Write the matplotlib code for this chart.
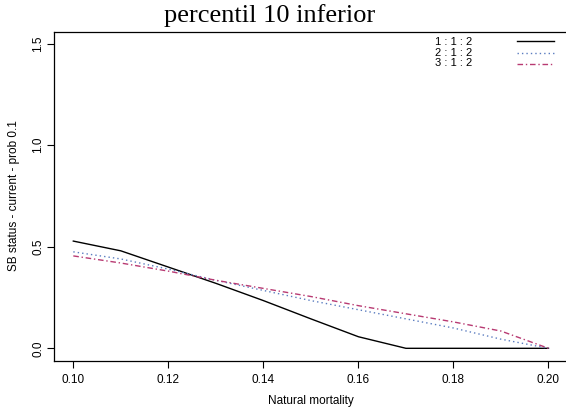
import matplotlib
matplotlib.use("Agg")
import matplotlib.pyplot as plt

# natural mortality grid and SB status for each scenario
mortality = [0.10, 0.11, 0.12, 0.13, 0.14, 0.15, 0.16, 0.17, 0.18, 0.19, 0.20]
sb_112 = [0.528, 0.48, 0.40, 0.32, 0.235, 0.145, 0.057, 0.0, 0.0, 0.0, 0.0]
sb_212 = [0.475, 0.44, 0.39, 0.335, 0.285, 0.235, 0.19, 0.145, 0.10, 0.045, 0.0]
sb_312 = [0.455, 0.42, 0.38, 0.335, 0.295, 0.255, 0.21, 0.17, 0.13, 0.085, 0.0]
labels = ["1 : 1 : 2", "2 : 1 : 2", "3 : 1 : 2"]

plt.rcParams["font.family"] = ["Liberation Sans", "DejaVu Sans"]

W, H = 566, 412
fig = plt.figure(figsize=(W / 100, H / 100), dpi=100)
# plot region runs a little past the right edge
ax = fig.add_axes([54.3 / W, 1 - 360.5 / H, (567.5 - 54.3) / W, (360.5 - 31.5) / H])

blue, red = "#5a7cc0", "#b83a72"
dot = (0, (1, 2.2))
dashdot = (0, (4, 2, 1, 2))

ax.plot(mortality, sb_112, color="black", lw=1.0, ls="-")
ax.plot(mortality, sb_212, color=blue, lw=1.0, ls=dot)
ax.plot(mortality, sb_312, color=red, lw=1.0, ls=dashdot)

ax.set_xlim(0.096, 0.204)
ax.set_ylim(-0.06, 1.56)
ax.set_xticks([0.10, 0.12, 0.14, 0.16, 0.18, 0.20])
ax.set_xticklabels(["0.10", "0.12", "0.14", "0.16", "0.18", "0.20"])
ax.set_yticks([0.0, 0.5, 1.0, 1.5])
ax.set_yticklabels(["0.0", "0.5", "1.0", "1.5"], rotation=90, va="center")
ax.tick_params(direction="out", length=4.8, width=0.8, labelsize=8.5)
ax.tick_params(axis="x", pad=5)
ax.tick_params(axis="y", pad=2.5)
for s in ax.spines.values():
    s.set_linewidth(0.9)

ax.set_xlabel("Natural mortality", fontsize=8.5, va="center")
ax.xaxis.set_label_coords(0.5, (360.5 - 401) / (360.5 - 31.5))
ax.set_ylabel("SB status - current - prob 0.1", fontsize=8.5, va="center")
ax.yaxis.set_label_coords((14 - 54.3) / (567.5 - 54.3), 0.5)

fig.text(270 / W, 1 - 22 / H, "percentil 10 inferior", family="Liberation Serif",
         fontsize=19, ha="center", va="baseline")

# legend: text on the left, line samples on the right
styles = [("black", "-"), (blue, dot), (red, dashdot)]
text_y = [42, 52.5, 63]
line_y = [41, 52.7, 64.3]
for lab, (c, ls), ty, ly in zip(labels, styles, text_y, line_y):
    fig.text(435 / W, 1 - ty / H, lab, fontsize=8, ha="left", va="center")
    fig.add_artist(plt.Line2D([516.7 / W, 554 / W], [1 - ly / H, 1 - ly / H],
                              color=c, ls=ls, lw=1.0, transform=fig.transFigure))

fig.savefig("out.png", dpi=100)
